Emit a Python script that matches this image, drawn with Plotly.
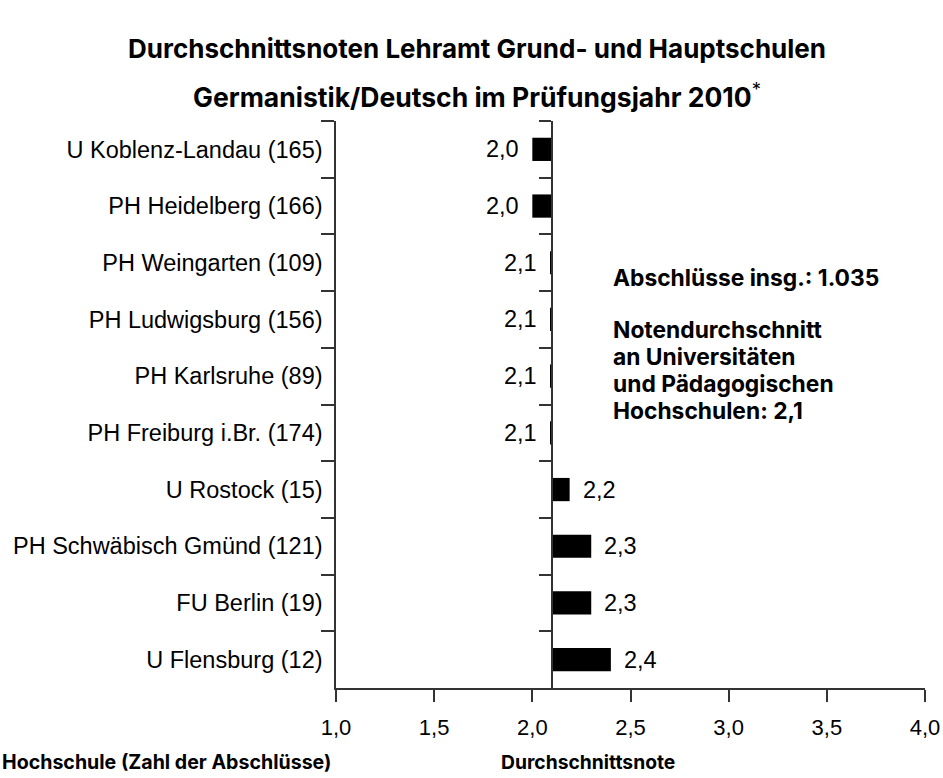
import plotly.graph_objects as go

categories = [
    "U Koblenz-Landau (165)",
    "PH Heidelberg (166)",
    "PH Weingarten (109)",
    "PH Ludwigsburg (156)",
    "PH Karlsruhe (89)",
    "PH Freiburg i.Br. (174)",
    "U Rostock (15)",
    "PH Schwäbisch Gmünd (121)",
    "FU Berlin (19)",
    "U Flensburg (12)",
]
values = [2.0, 2.0, 2.09, 2.09, 2.09, 2.09, 2.19, 2.3, 2.3, 2.4]
labels = ["2,0", "2,0", "2,1", "2,1", "2,1", "2,1", "2,2", "2,3", "2,3", "2,4"]
average = 2.1
x_ticks = [1.0, 1.5, 2.0, 2.5, 3.0, 3.5, 4.0]
x_range = [1.0, 4.0]

FONT = "Liberation Sans, Arial, sans-serif"
BOLD = "Inter, Liberation Sans, sans-serif"
AXIS_COLOR = "#333333"

PLOT_L, PLOT_R, PLOT_T, PLOT_B = 336, 925, 121, 688
W, H = 943, 778

fig = go.Figure()
fig.add_trace(go.Bar(
    y=categories,
    x=[v - average for v in values],
    base=average,
    orientation="h",
    marker=dict(color="black", line=dict(width=0)),
    width=0.41,
    hoverinfo="skip",
    showlegend=False,
))
# invisible helper trace for the axis drawn at the average
fig.add_trace(go.Scatter(
    y=categories, x=[average] * len(categories), yaxis="y2",
    mode="markers", marker=dict(opacity=0), hoverinfo="skip", showlegend=False,
))

for cat, v, lab in zip(categories, values, labels):
    left = v < average
    fig.add_annotation(
        x=v, y=cat, text=lab, showarrow=False,
        xanchor="right" if left else "left",
        xshift=-11 if left else 11,
        font=dict(family=FONT, size=23.5, color="black"),
    )

frac = (average - x_range[0]) / (x_range[1] - x_range[0])

fig.update_layout(
    width=W, height=H,
    margin=dict(l=PLOT_L, r=W - PLOT_R, t=PLOT_T, b=H - PLOT_B, autoexpand=False),
    plot_bgcolor="white", paper_bgcolor="white",
    separators=",.",
    font=dict(family=FONT, size=23.5, color="black"),
    xaxis=dict(
        range=x_range, tickvals=x_ticks, tickformat=".1f",
        showline=True, linecolor=AXIS_COLOR, linewidth=1.5,
        ticks="outside", ticklen=12, tickcolor=AXIS_COLOR, tickwidth=1.5,
        ticklabelstandoff=7,
        showgrid=False, zeroline=False, automargin=False,
        tickfont=dict(family=FONT, size=22),
    ),
    yaxis=dict(
        type="category", categoryorder="array", categoryarray=categories,
        autorange=False, range=[len(categories) - 0.5, -0.5],
        showline=True, linecolor=AXIS_COLOR, linewidth=1.5,
        ticks="outside", tickson="boundaries", ticklen=13,
        tickcolor=AXIS_COLOR, tickwidth=1.5,
        ticklabelstandoff=7,
        showgrid=False, zeroline=False, automargin=False,
        tickfont=dict(family=FONT, size=23.5),
    ),
    yaxis2=dict(
        type="category", categoryorder="array", categoryarray=categories,
        overlaying="y", anchor="free", position=frac, side="left",
        autorange=False, range=[len(categories) - 0.5, -0.5],
        showline=True, linecolor=AXIS_COLOR, linewidth=1.5,
        ticks="outside", tickson="boundaries", ticklen=12,
        tickcolor=AXIS_COLOR, tickwidth=1.5,
        showticklabels=False, showgrid=False, zeroline=False,
    ),
)

pw = PLOT_R - PLOT_L


def px_x(xpix):
    return (xpix - PLOT_L) / pw


# Title
fig.add_annotation(
    xref="paper", yref="paper", x=px_x(477), y=1, yshift=PLOT_T - 48,
    text="<b>Durchschnittsnoten Lehramt Grund- und Hauptschulen</b>",
    showarrow=False, xanchor="center", yanchor="middle",
    font=dict(family=BOLD, size=26, color="black"),
)
fig.add_annotation(
    xref="paper", yref="paper", x=px_x(477), y=1, yshift=PLOT_T - 95,
    text="<b>Germanistik/Deutsch im Prüfungsjahr 2010</b><sup>*</sup>",
    showarrow=False, xanchor="center", yanchor="middle",
    font=dict(family=BOLD, size=26.5, color="black"),
)

# Info text
info_lines = [
    ("Abschlüsse insg.: 1.035", 277),
    ("Notendurchschnitt", 329),
    ("an Universitäten", 356),
    ("und Pädagogischen", 383),
    ("Hochschulen: 2,1", 410),
]
for txt, ypix in info_lines:
    fig.add_annotation(
        xref="paper", yref="paper", x=px_x(611),
        y=1, yshift=PLOT_T - ypix,
        text="<b>" + txt + "</b>", showarrow=False,
        xanchor="left", yanchor="middle",
        font=dict(family=BOLD, size=22.8, color="black"),
    )

# Bottom axis captions
fig.add_annotation(
    xref="paper", yref="paper", x=px_x(0), y=0, yshift=PLOT_B - 762,
    text="<b>Hochschule (Zahl der Abschlüsse)</b>", showarrow=False,
    xanchor="left", yanchor="middle",
    font=dict(family=BOLD, size=19.6, color="black"),
)
fig.add_annotation(
    xref="paper", yref="paper", x=px_x(499), y=0, yshift=PLOT_B - 762,
    text="<b>Durchschnittsnote</b>", showarrow=False,
    xanchor="left", yanchor="middle",
    font=dict(family=BOLD, size=19.3, color="black"),
)

fig.write_html(
    "out.html",
    config={"displayModeBar": False},
    post_script="document.body.style.margin='0';",
)
